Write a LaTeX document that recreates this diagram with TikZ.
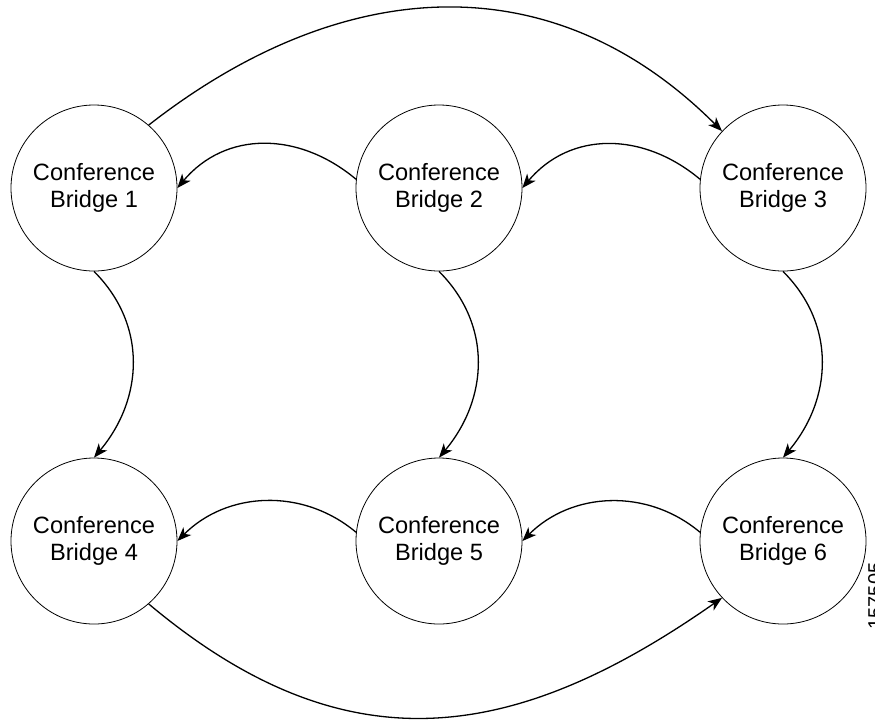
\documentclass[tikz,border=0pt]{standalone}
\usepackage{fontspec}
\setmainfont{Liberation Sans}
\usetikzlibrary{arrows.meta}
\begin{document}
\begin{tikzpicture}[x=1pt,y=1pt,
  bridge/.style={circle,draw,line width=0.8pt,minimum size=166pt,inner sep=0pt,
    align=center,font=\fontsize{23.6}{27.5}\selectfont},
  link/.style={line width=1.3pt,-{Stealth[length=14pt,width=11pt,inset=4pt]}}]
\useasboundingbox (0,0) rectangle (875,-721);
\clip (0,0) rectangle (875,-721);
\node[bridge] (b1) at (94,-188) {Conference\\Bridge 1};
\node[bridge] (b2) at (439,-188) {Conference\\Bridge 2};
\node[bridge] (b3) at (783,-188) {Conference\\Bridge 3};
\node[bridge] (b4) at (94,-541) {Conference\\Bridge 4};
\node[bridge] (b5) at (439,-541) {Conference\\Bridge 5};
\node[bridge] (b6) at (783,-541) {Conference\\Bridge 6};
\node[rotate=90,anchor=north,inner sep=0pt,font=\fontsize{20}{20}\selectfont] (code) at (868,-596) {157505};
% outer arcs
\draw[link] (b1.49) to[out=38,in=135,looseness=1.08] (b3.137);
\draw[link] (b4.-49) to[out=-40,in=-145,looseness=1.14] (b6.-137);
% top row
\draw[link] (b2.174) to[out=140,in=50,looseness=1.07] (b1.east);
\draw[link] (b3.174) to[out=140,in=50,looseness=1.07] (b2.east);
% bottom row
\draw[link] (b5.174) to[out=140,in=45,looseness=1.0] (b4.east);
\draw[link] (b6.174) to[out=140,in=45,looseness=1.0] (b5.east);
% verticals
\draw[link] (b1.south) to[out=-45,in=50,looseness=1.05] (b4.north);
\draw[link] (b2.south) to[out=-45,in=50,looseness=1.05] (b5.north);
\draw[link] (b3.south) to[out=-45,in=50,looseness=1.05] (b6.north);
\end{tikzpicture}
\end{document}
